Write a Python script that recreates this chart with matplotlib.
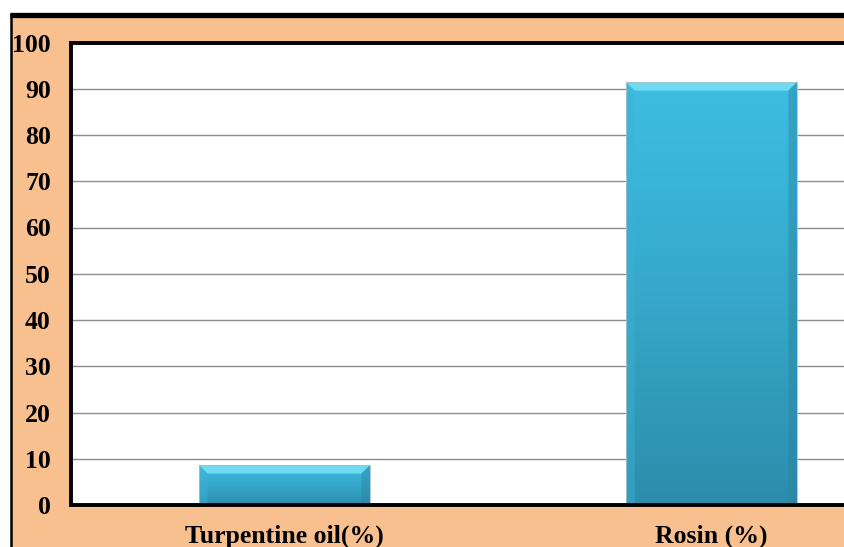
import matplotlib
matplotlib.use("Agg")
import matplotlib.pyplot as plt
import numpy as np
from matplotlib.patches import Rectangle, Polygon
from matplotlib.lines import Line2D
from matplotlib.colors import LinearSegmentedColormap

categories = ["Turpentine oil(%)", "Rosin (%)"]
values = [8.6, 91.4]
yticks = [0, 10, 20, 30, 40, 50, 60, 70, 80, 90, 100]

W, H = 844, 547
fig = plt.figure(figsize=(W / 100, H / 100), dpi=100)
fig.patch.set_facecolor("white")

# peach background panel with black frame (thick top, thin left)
bg = Rectangle((11 / W, -0.2), 1.2, 1.2 - 14.5 / H, transform=fig.transFigure,
               facecolor="#F8C08F", edgecolor="none", zorder=-5)
fig.patches.append(bg)
fig.lines.append(Line2D([10 / W, 1.01], [1 - 14.5 / H, 1 - 14.5 / H], transform=fig.transFigure,
                        color="black", linewidth=3.8, zorder=-4, solid_capstyle="butt"))
fig.lines.append(Line2D([11 / W, 11 / W], [-0.01, 1 - 12.5 / H], transform=fig.transFigure,
                        color="black", linewidth=1.8, zorder=-4, solid_capstyle="butt"))

left, right = 71 / W, 925 / W
bottom, top = 1 - 505 / H, 1 - 42.5 / H
ax = fig.add_axes([left, bottom, right - left, top - bottom])
ax.set_zorder(2)
ax.set_facecolor("white")

for y in yticks[1:-1]:
    ax.axhline(y, color="#8c8c8c", linewidth=1.0, zorder=1)

cmap = LinearSegmentedColormap.from_list("bar", ["#2D8DAB", "#36A8CA", "#3DBEE2"])
bw = 0.40
bev_x = 0.02
bev_y = 1.8
x = np.arange(len(categories))
for xi, v in zip(x, values):
    x0, x1 = xi - bw / 2, xi + bw / 2
    grad = np.linspace(0, 1, 256).reshape(-1, 1)
    ax.imshow(grad, extent=(x0, x1, 0, v), origin="lower", cmap=cmap,
              aspect="auto", zorder=2, interpolation="bilinear")
    ax.add_patch(Polygon([(x0, v), (x1, v), (x1 - bev_x, v - bev_y), (x0 + bev_x, v - bev_y)],
                         closed=True, facecolor="#70DAF2", edgecolor="none", zorder=3))
    ax.add_patch(Polygon([(x0, v), (x0 + bev_x, v - bev_y), (x0 + bev_x, 0), (x0, 0)],
                         closed=True, facecolor="#3AB3D6", edgecolor="none", zorder=3, alpha=0.45))
    ax.add_patch(Polygon([(x1, v), (x1 - bev_x, v - bev_y), (x1 - bev_x, 0), (x1, 0)],
                         closed=True, facecolor="#2A84A2", edgecolor="none", zorder=3, alpha=0.45))
    ax.add_patch(Rectangle((x0, 0), bw, v, facecolor="none", edgecolor="#a9c0cb",
                           linewidth=0.6, zorder=4))
ax.set_xlim(-0.5, len(categories) - 0.5)
ax.set_ylim(0, 100)

for s in ["left", "top", "bottom"]:
    ax.spines[s].set_linewidth(2.8)
    ax.spines[s].set_color("black")
    ax.spines[s].set_zorder(5)
ax.spines["right"].set_visible(False)

font = dict(family="Liberation Serif", weight="bold", size=18.5)
ax.set_yticks(yticks)
ax.set_yticklabels([str(t) for t in yticks], **font)
ax.set_xticks(x)
ax.set_xticklabels(categories, **font)
ax.tick_params(axis="y", length=0, pad=14.5)
ax.tick_params(axis="x", length=0, pad=14)

fig.savefig("out.png", dpi=100, facecolor=fig.get_facecolor())
